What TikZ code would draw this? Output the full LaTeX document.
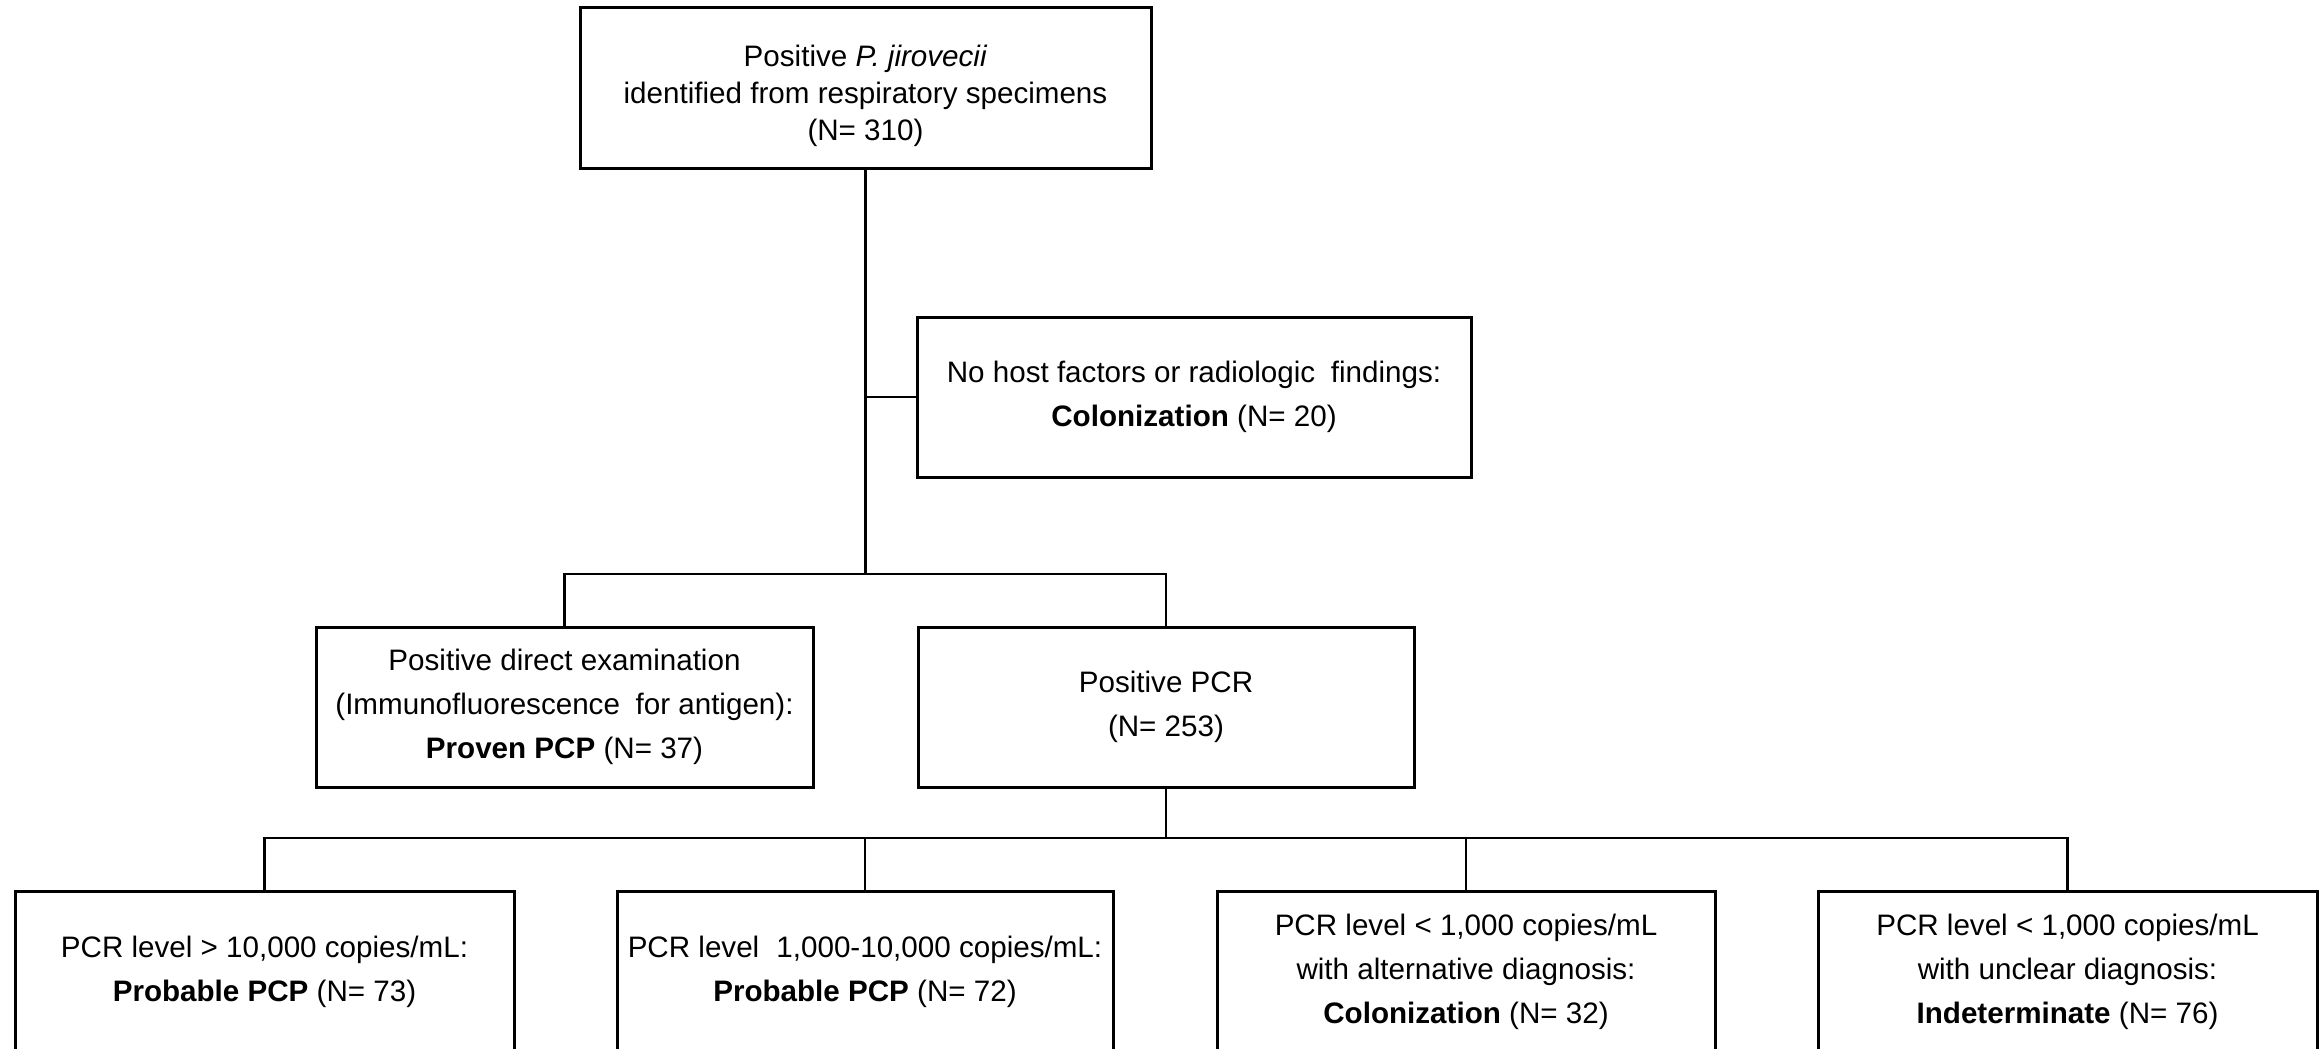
\documentclass[tikz,border=0pt]{standalone}
\usepackage{fontspec}
\setmainfont{Liberation Sans}
\begin{document}
\begin{tikzpicture}[x=1pt,y=-1pt,
  box/.style={draw=black, line width=3pt, inner sep=0pt, align=center,
    font=\fontsize{29.6}{44}\selectfont},
  conn/.style={draw=black, line width=2.5pt}]
\useasboundingbox (0,0) rectangle (2323,1049);
\clip (0,0) rectangle (2323,1049);
% top
\node[box, minimum width=571pt, minimum height=160pt] (top) at (865.5,88) {};
\node[align=center, inner sep=0pt, font=\fontsize{29.6}{37}\selectfont] (toptext) at (865.5,96)
  {Positive \textit{P. jirovecii}\\identified from respiratory specimens\\(N= 310)};
\node[box, minimum width=554pt, minimum height=160pt] (colon) at (1194,397)
  {No host factors or radiologic\hspace{0.25em} findings:\\\textbf{Colonization} (N= 20)};
\node[box, minimum width=497pt, minimum height=160pt] (proven) at (564.5,707)
  {Positive direct examination\\(Immunofluorescence\hspace{0.25em} for antigen):\\\textbf{Proven PCP} (N= 37)};
\node[box, minimum width=496pt, minimum height=160pt] (pcr) at (1166,707)
  {Positive PCR\\(N= 253)};
% bottom row
\node[box, minimum width=499pt, minimum height=162pt] (b1) at (264.5,972)
  {PCR level > 10,000 copies/mL:\\\textbf{Probable PCP} (N= 73)};
\node[box, minimum width=496pt, minimum height=162pt] (b2) at (865,972)
  {PCR level\hspace{0.3em} 1,000-10,000 copies/mL:\\\textbf{Probable PCP} (N= 72)};
\node[box, minimum width=498pt, minimum height=162pt] (b3) at (1466,972)
  {PCR level < 1,000 copies/mL\\with alternative diagnosis:\\\textbf{Colonization} (N= 32)};
\node[box, minimum width=499pt, minimum height=162pt] (b4) at (2067.5,972)
  {PCR level < 1,000 copies/mL\\with unclear diagnosis:\\\textbf{Indeterminate} (N= 76)};
% connectors
\coordinate (j1) at (865.5,574);
\coordinate (bc) at (865.5,397);
\draw[conn] (top.south) -- (j1);
\draw[conn] (bc) -- (colon.west);
\draw[conn] (proven.north) |- (j1) -| (pcr.north);
\coordinate (j2) at (1166,838);
\draw[conn] (pcr.south) -- (j2);
\draw[conn] (b1.north) |- (j2) -| (b4.north);
\draw[conn] (b2.north) -- (b2.north |- j2);
\draw[conn] (b3.north) -- (b3.north |- j2);
\end{tikzpicture}
\end{document}
